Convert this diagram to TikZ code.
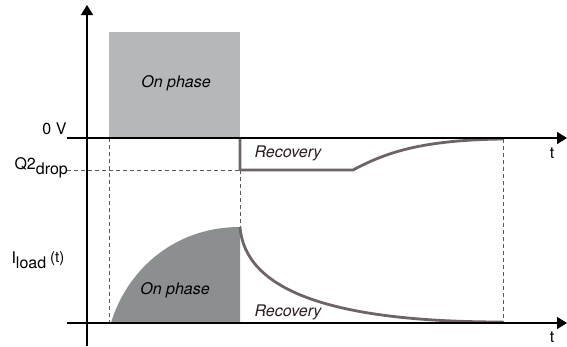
\documentclass[tikz,border=0pt]{standalone}
\usepackage{fontspec}
\setmainfont{TeX Gyre Heros}
\usetikzlibrary{arrows.meta,positioning}
\definecolor{onlight}{HTML}{B5B8BA}
\definecolor{ondark}{HTML}{8B8F90}
\definecolor{sigcolor}{HTML}{6E6467}
\definecolor{basegray}{HTML}{76787A}
\definecolor{guidegray}{HTML}{5A5A5A}
\definecolor{rectext}{HTML}{2B1B20}
\newcommand{\lowpart}[1]{\raisebox{-5pt}{\fontsize{16}{18}\selectfont #1}}

\begin{document}
\begin{tikzpicture}
                [x=1pt,y=-1pt,>={Triangle[length=10pt,width=12pt]},
                 phasetext/.style={font=\fontsize{16}{18}\selectfont\itshape},
                 axistext/.style={font=\fontsize{16}{18}\selectfont},
                 signal/.style={line width=2.8pt,draw=sigcolor,line join=round},
                 guide/.style={draw=guidegray,line width=0.9pt,dash pattern=on 4pt off 3pt},
                 axis/.style={line width=1.4pt,->}]

                \useasboundingbox (0,0) rectangle (567,346);

                % on phase areas
                \fill[onlight] (109,32) rectangle (240,138);
                \fill[ondark] (111,323) .. controls (125,275) and (170,227) .. (240,227) -- (240,323) -- cycle;

                % helper points
                \coordinate (vstart) at (87,138);
                \coordinate (vrise) at (109,138);
                \coordinate (vfall) at (240,138);
                \coordinate (vdrop) at (240,170);
                \coordinate (vflat) at (353,170);
                \coordinate (vend) at (503,139);
                \coordinate (istart) at (87,323);
                \coordinate (irise) at (111,323);
                \coordinate (ipeak) at (240,227);
                \coordinate (iend) at (503,322);

                % guide lines
                \draw[guide] (67,170) -- (vdrop);
                \draw[guide] (vrise) -- (109,323);
                \draw[guide] (vdrop) -- (ipeak);
                \draw[guide] (vend) -- (iend);

                % signals
                \draw[line width=2.4pt,basegray] (vstart) -- (vrise);
                \draw[line width=2.4pt,basegray] (istart) -- (irise);
                \draw[signal] (vfall) -- (vdrop) -- (vflat) .. controls (385,153) and (420,140) .. (vend);
                \draw[signal] (ipeak) .. controls (245,290) and (330,322) .. (iend);

                % axes
                \draw[axis] (87,346) -- (87,5);
                \draw[axis] (67,138) -- (567,138);
                \draw[axis] (67,323) -- (567,323);

                % texts
                \node[phasetext] (onup) at (176,83) {On phase};
                \node[phasetext] (onlow) at (175,290) {On phase};
                \node[phasetext,text=rectext] (recup) at (288,153) {Recovery};
                \node[phasetext,text=rectext] (reclow) at (288,312) {Recovery};
                \node[axistext,anchor=east] (zero) at (70,129) {0 V};
                \node[axistext,anchor=base west] (drop) at (11,169) {Q2\lowpart{drop}};
                \node[axistext,anchor=base west] (iload) at (8,263) {I\lowpart{load}\hspace{4pt}\raisebox{1pt}{\fontsize{15}{17}\selectfont(t)}};
                \node[axistext] (tup) at (552,153) {t};
                \node[axistext] (tlow) at (552,337) {t};

            \end{tikzpicture}
\end{document}
